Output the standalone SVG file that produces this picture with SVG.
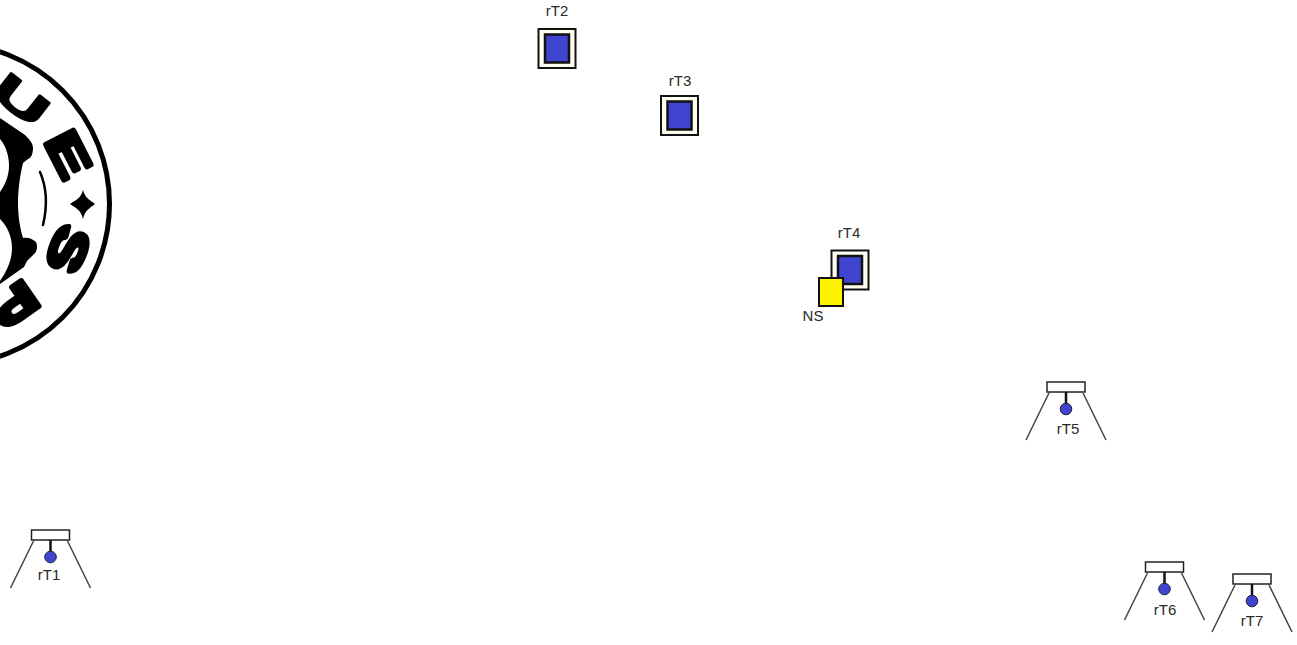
<svg xmlns="http://www.w3.org/2000/svg" width="1297" height="645" viewBox="0 0 1297 645">
<style>
text{font-family:"Liberation Sans",Arial,sans-serif;font-size:15px;fill:#2a2a2a;text-anchor:middle}
.lg{font-weight:bold;font-size:44px;fill:#000;stroke:#000;stroke-width:4.500;stroke-linejoin:round}
.o{fill:#fffdf0;stroke:#111;stroke-width:2}
.i{fill:#3f45d0;stroke:#111;stroke-width:2.5}
.h{fill:#fff;stroke:#222;stroke-width:1.5}
.l{fill:none;stroke:#444;stroke-width:1.5}
.s{fill:none;stroke:#111;stroke-width:2.5}
.b{fill:#3f45d0;stroke:#223;stroke-width:1}
</style>
<defs>
<g id="sq"><rect class="o" x="-18.500" y="-19.500" width="37" height="39"/><rect class="i" x="-12" y="-14" width="24" height="28"/></g>
<g id="lamp"><rect class="h" x="-19" y="-6" width="38" height="10"/><path class="s" d="M0 4V17"/><circle class="b" cx="0" cy="21" r="5.800"/><path class="l" d="M-17 5L-40 52M17 5L40 52"/></g>
</defs>
<g id="logo">
<circle cx="-51" cy="204" r="160.500" fill="#fff" stroke="#000" stroke-width="5"/>
<path fill="#000" d="M0 118L25 135C29 139 33 143 33 148C33 154 31 158 28 159L23 163C20 175 18 190 18 203C18 216 20 228 23 238C27 237 32 238 36 242C38 246 37 252 34 254L27 261L24 267L0 284Z"/>
<path fill="#fff" d="M0 139C6 146 9 156 9 166C9 176 5 185 0 192ZM0 219C7 226 12 236 12 248C12 260 7 271 0 281Z"/>
<path d="M40 172C47 188 47 208 43 225" fill="none" stroke="#000" stroke-width="2.500" stroke-linecap="round"/>
<path fill="#000" d="M83 190C85 198 90 200 95 204C90 208 85 210 83 219C81 210 76 208 70 204C76 200 81 198 83 190Z"/>
<text class="lg" style="stroke-width:2" transform="translate(21 100) rotate(38) scale(1.8 1)" y="15">U</text>
<text class="lg" transform="translate(69 154) rotate(63) scale(1.55 1.05)" y="16">E</text>
<text class="lg" transform="translate(69 250) rotate(112) scale(1.55 1.1)" y="16">S</text>
<text class="lg" transform="translate(15 305) rotate(145) scale(1.55 1.05)" y="16">P</text>
</g>
<g id="rT2"><use href="#sq" x="557" y="48.500"/><text x="557" y="16">rT2</text></g>
<g id="rT3"><use href="#sq" x="679.500" y="115.500"/><text x="680" y="86">rT3</text></g>
<g id="rT4"><use href="#sq" x="850" y="270"/><text x="849" y="238">rT4</text></g>
<g id="NS"><rect x="819" y="278" width="24" height="28" fill="#fff200" stroke="#111" stroke-width="2"/><text x="813" y="321">NS</text></g>
<g id="rT1"><use href="#lamp" x="50.500" y="536"/><text x="49" y="580">rT1</text></g>
<g id="rT5"><use href="#lamp" x="1066" y="388"/><text x="1068" y="434">rT5</text></g>
<g id="rT6"><use href="#lamp" x="1164.500" y="568"/><text x="1165" y="615">rT6</text></g>
<g id="rT7"><use href="#lamp" x="1252" y="580"/><text x="1252" y="626">rT7</text></g>
<g id="connectors"/>
</svg>
